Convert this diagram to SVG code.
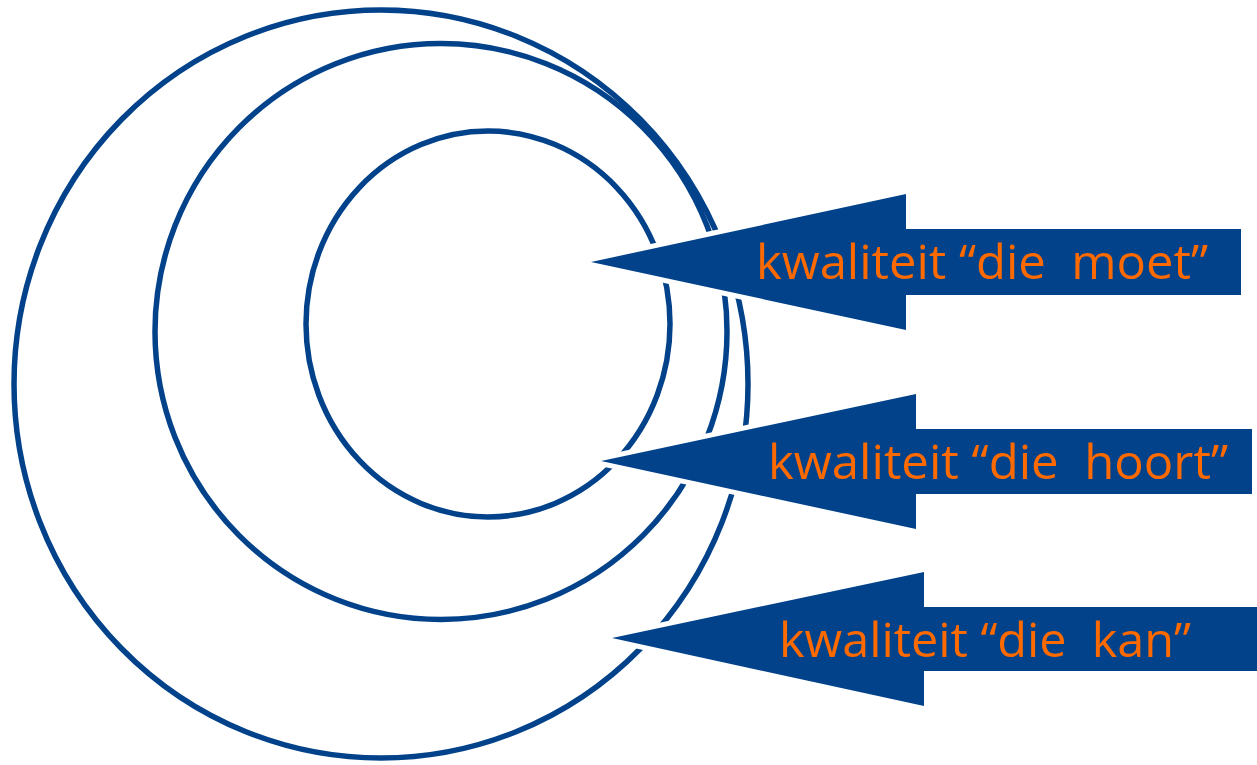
<svg xmlns="http://www.w3.org/2000/svg" width="1257" height="765" viewBox="0 0 1257 765">
<style>
.ring{fill:none;stroke:#02428A;stroke-width:5.5}
.arrow{fill:#02428A;stroke:#FFFFFF;stroke-width:10;stroke-linejoin:miter;paint-order:stroke fill}
.lbl{fill:#FF6A00;font-family:"Open Sans","Noto Sans",sans-serif;font-size:48px;white-space:pre}
</style>
<rect width="1257" height="765" fill="#FFFFFF"/>
<g id="rings">
<ellipse id="ring-kan" class="ring" cx="381" cy="384" rx="367" ry="374"/>
<ellipse id="ring-hoort" class="ring" cx="441" cy="331.5" rx="286" ry="288"/>
<ellipse id="ring-moet" class="ring" cx="488" cy="324" rx="182" ry="193"/>
</g>
<g id="connectors">
<g id="arrow-moet">
<polygon class="arrow" points="591,262 906,194 906,229 1241,229 1241,295 906,295 906,330"/>
<text class="lbl" x="756" y="279" textLength="452" lengthAdjust="spacingAndGlyphs">kwaliteit “die  moet”</text>
</g>
<g id="arrow-hoort">
<polygon class="arrow" points="601,461 916,394 916,429 1252,429 1252,494 916,494 916,529"/>
<text class="lbl" x="768" y="479" textLength="460" lengthAdjust="spacingAndGlyphs">kwaliteit “die  hoort”</text>
</g>
<g id="arrow-kan">
<polygon class="arrow" points="612,638 924,572 924,607 1265,607 1265,671 924,671 924,706"/>
<text class="lbl" x="779" y="657" textLength="412" lengthAdjust="spacingAndGlyphs">kwaliteit “die  kan”</text>
</g>
</g>
</svg>
